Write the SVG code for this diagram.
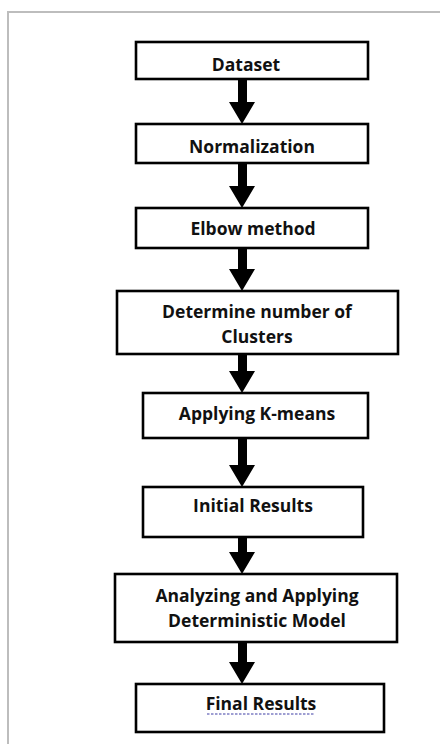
<svg xmlns="http://www.w3.org/2000/svg" width="440" height="744" viewBox="0 0 440 744">
<style>
.box{fill:#fff;stroke:#000;stroke-width:2.6}
.t{font-family:"Open Sans","Liberation Sans",sans-serif;font-weight:bold;font-size:17.5px;fill:#111;text-anchor:middle}
.arr{fill:#000}
</style>
<rect x="0" y="0" width="440" height="744" fill="#fff"/>
<path d="M8,744 V12 H440" fill="none" stroke="#bdbdbd" stroke-width="2"/>
<g id="connectors">
<polygon class="arr" points="238,79 247,79 247,102 255,102 242,124 229,102 238,102"/>
<polygon class="arr" points="238,163 247,163 247,186 255,186 242,208 229,186 238,186"/>
<polygon class="arr" points="238,248 247,248 247,269 255,269 242,291 229,269 238,269"/>
<polygon class="arr" points="238,354 247,354 247,371 255,371 242,393 229,371 238,371"/>
<polygon class="arr" points="238,438 247,438 247,465 255,465 242,487 229,465 238,465"/>
<polygon class="arr" points="238,537 247,537 247,552 255,552 242,574 229,552 238,552"/>
<polygon class="arr" points="238,642 247,642 247,662 255,662 242,684 229,662 238,662"/>
</g>
<g id="n1"><rect class="box" x="136" y="42" width="232" height="37"/><text class="t" x="246" y="71">Dataset</text></g>
<g id="n2"><rect class="box" x="136" y="124" width="232" height="39"/><text class="t" x="252" y="153">Normalization</text></g>
<g id="n3"><rect class="box" x="136" y="208" width="232" height="40"/><text class="t" x="253" y="235">Elbow method</text></g>
<g id="n4"><rect class="box" x="117" y="291" width="281" height="63"/><text class="t" x="257" y="318">Determine number of</text><text class="t" x="257" y="343">Clusters</text></g>
<g id="n5"><rect class="box" x="143" y="393" width="225" height="45"/><text class="t" x="257" y="420">Applying K-means</text></g>
<g id="n6"><rect class="box" x="143" y="487" width="220" height="50"/><text class="t" x="253" y="512">Initial Results</text></g>
<g id="n7"><rect class="box" x="115" y="574" width="282" height="68"/><text class="t" x="257" y="602">Analyzing and Applying</text><text class="t" x="257" y="627">Deterministic Model</text></g>
<g id="n8"><rect class="box" x="136" y="684" width="248" height="48"/><text class="t" x="261" y="710">Final Results</text><line x1="207" y1="714" x2="315" y2="714" stroke="#7f7fc4" stroke-width="1.5" stroke-dasharray="2.5,1.5"/></g>
</svg>
